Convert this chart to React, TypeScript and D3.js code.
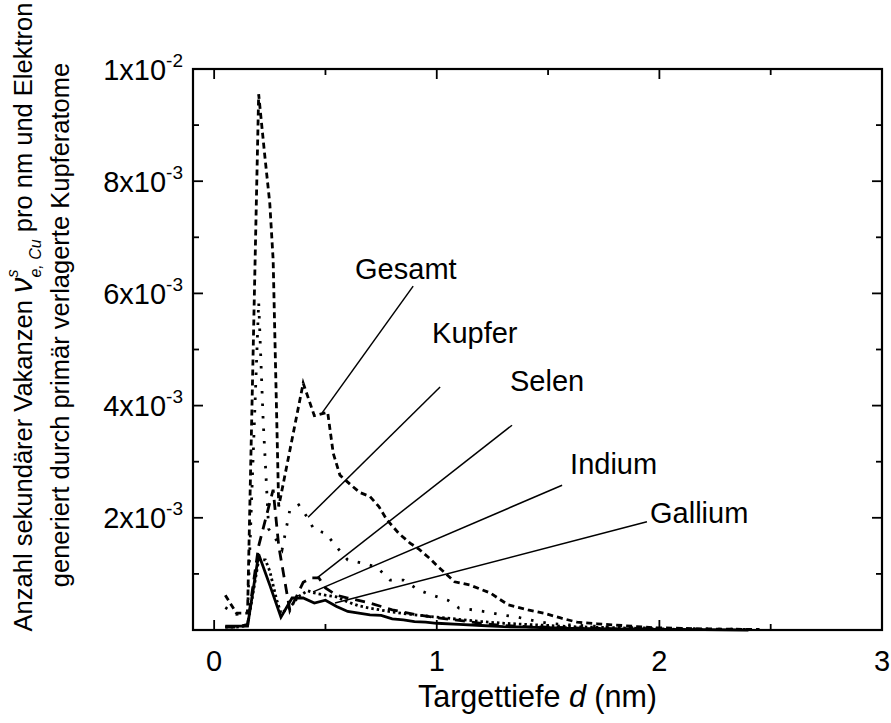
import React from 'react';
import * as d3 from 'd3';

// ---------- data (values in units of 1e-3) ----------
const UNIT = 1e-3;

const depthGesamt = [0.05, 0.1, 0.15, 0.2, 0.225, 0.25, 0.265, 0.29, 0.4, 0.45, 0.51, 0.535, 0.565, 0.61, 0.655, 0.7, 0.74, 0.775, 0.83, 0.88, 0.92, 0.97, 1.0, 1.08, 1.15, 1.24, 1.32, 1.41, 1.48, 1.56, 1.63, 1.72, 1.8, 1.9, 1.98, 2.1, 2.2, 2.3, 2.45];
const valueGesamt = [0.62, 0.3, 0.3, 9.55, 8.55, 7.6, 6.6, 2.2, 4.4, 3.82, 3.88, 3.15, 2.76, 2.6, 2.45, 2.38, 2.2, 1.97, 1.72, 1.55, 1.44, 1.27, 1.15, 0.86, 0.8, 0.66, 0.45, 0.36, 0.3, 0.21, 0.14, 0.11, 0.09, 0.06, 0.04, 0.03, 0.02, 0.015, 0.01];

const depthKupfer = [0.05, 0.1, 0.15, 0.2, 0.22, 0.245, 0.28, 0.305, 0.34, 0.38, 0.42, 0.45, 0.5, 0.55, 0.6, 0.67, 0.73, 0.79, 0.85, 0.92, 0.98, 1.05, 1.1, 1.16, 1.23, 1.29, 1.36, 1.42, 1.5, 1.6, 1.7, 1.79, 1.9, 2.0, 2.2, 2.4];
const valueKupfer = [0.4, 0.28, 0.3, 5.85, 3.75, 1.8, 1.6, 1.43, 2.14, 2.23, 2.0, 1.78, 1.73, 1.48, 1.25, 1.19, 1.12, 0.89, 0.89, 0.71, 0.62, 0.53, 0.39, 0.36, 0.32, 0.27, 0.23, 0.18, 0.12, 0.09, 0.07, 0.05, 0.04, 0.03, 0.02, 0.01];

const depthSelen = [0.05, 0.1, 0.15, 0.2, 0.265, 0.29, 0.34, 0.4, 0.44, 0.47, 0.5, 0.55, 0.6, 0.7, 0.8, 0.9, 1.0, 1.1, 1.2, 1.3, 1.4, 1.5, 1.6, 1.7, 1.8, 2.0, 2.2];
const valueSelen = [0.05, 0.05, 0.1, 1.5, 2.5, 1.5, 0.35, 0.85, 0.93, 0.93, 0.75, 0.62, 0.57, 0.48, 0.36, 0.28, 0.22, 0.17, 0.12, 0.08, 0.06, 0.05, 0.04, 0.03, 0.02, 0.01, 0.005];

const depthIndium = [0.05, 0.1, 0.15, 0.2, 0.23, 0.25, 0.28, 0.3, 0.34, 0.38, 0.42, 0.45, 0.5, 0.55, 0.6, 0.65, 0.7, 0.8, 0.9, 1.0, 1.1, 1.2, 1.3, 1.4, 1.5, 1.6, 1.7, 1.8, 1.9, 2.0, 2.1];
const valueIndium = [0.05, 0.05, 0.08, 1.25, 1.25, 1.05, 0.55, 0.3, 0.4, 0.6, 0.7, 0.66, 0.62, 0.59, 0.5, 0.43, 0.39, 0.32, 0.27, 0.23, 0.19, 0.15, 0.12, 0.1, 0.08, 0.06, 0.05, 0.04, 0.03, 0.02, 0.01];

const depthGallium = [0.05, 0.1, 0.15, 0.2, 0.25, 0.3, 0.35, 0.4, 0.45, 0.5, 0.55, 0.6, 0.65, 0.7, 0.75, 0.8, 0.85, 0.9, 0.95, 1.0, 1.1, 1.2, 1.3, 1.4, 1.5, 1.6, 1.8, 2.0, 2.2, 2.4];
const valueGallium = [0.07, 0.07, 0.07, 1.35, 0.8, 0.23, 0.57, 0.57, 0.48, 0.53, 0.42, 0.33, 0.3, 0.27, 0.26, 0.2, 0.18, 0.15, 0.14, 0.12, 0.1, 0.08, 0.06, 0.05, 0.04, 0.03, 0.02, 0.01, 0.005, 0.0];

const xMajorTicks = [0, 1, 2, 3];
const xMinorTicks = [0.5, 1.5, 2.5];
const yMajorTicks = [0.002, 0.004, 0.006, 0.008, 0.01];
const yMinorTicks = [0.001, 0.003, 0.005, 0.007, 0.009];
const yTickMantissa = ['2', '4', '6', '8', '1'];
const yTickExponent = ['-3', '-3', '-3', '-3', '-2'];

const seriesNames = ['Gesamt', 'Kupfer', 'Selen', 'Indium', 'Gallium'];

// annotation anchors in data units (x in nm, y in 1e-3)
const labelX = [0.633, 0.979, 1.329, 1.599, 1.958];
const labelY = [6.26, 5.12, 4.26, 2.78, 1.91];
const leaderFromX = [0.894, 1.015, 1.338, 1.563, 1.944];
const leaderFromY = [6.13, 4.33, 3.65, 2.58, 1.93];
const leaderToX = [0.485, 0.422, 0.4625, 0.4445, 0.543];
const leaderToY = [3.87, 2.01, 0.93, 0.68, 0.48];

// ---------- layout ----------
const W = 891;
const H = 723;
const PL = 193, PR = 882, PT = 69, PB = 630;
const FONT = '"Liberation Sans", Arial, Helvetica, sans-serif';

const styles: Record<string, { dash: string; width: number; cap: string }> = {
  Gesamt: { dash: '6,4', width: 2.8, cap: 'butt' },
  Kupfer: { dash: '2.5,10', width: 2.8, cap: 'butt' },
  Selen: { dash: '10,7', width: 2.8, cap: 'butt' },
  Indium: { dash: '2.5,3', width: 2.8, cap: 'butt' },
  Gallium: { dash: '', width: 2.8, cap: 'butt' },
};

export default function App() {
  const x = d3.scaleLinear().domain([-0.095, 3]).range([PL, PR]);
  const y = d3.scaleLinear().domain([0, 0.01]).range([PB, PT]);
  const line = d3
    .line<[number, number]>()
    .x((d) => x(d[0]))
    .y((d) => y(d[1] * UNIT));

  const series = [
    { name: 'Gesamt', xs: depthGesamt, vs: valueGesamt },
    { name: 'Kupfer', xs: depthKupfer, vs: valueKupfer },
    { name: 'Selen', xs: depthSelen, vs: valueSelen },
    { name: 'Indium', xs: depthIndium, vs: valueIndium },
    { name: 'Gallium', xs: depthGallium, vs: valueGallium },
  ];

  const majorLen = 10;
  const minorLen = 6;

  return (
    <svg
      width={W}
      height={H}
      style={{ position: 'absolute', left: 0, top: 0, background: '#fff' }}
      fontFamily={FONT}
    >
      <rect x={0} y={0} width={W} height={H} fill="#fff" />
      {/* series */}
      {series.map((s) => (
        <path
          key={s.name}
          d={line(s.xs.map((xv, i) => [xv, s.vs[i]] as [number, number])) || ''}
          fill="none"
          stroke="#000"
          strokeWidth={styles[s.name].width}
          strokeDasharray={styles[s.name].dash || undefined}
          strokeLinecap={styles[s.name].cap as any}
          strokeLinejoin="miter"
        />
      ))}

      {/* frame */}
      <rect x={PL} y={PT} width={PR - PL} height={PB - PT} fill="none" stroke="#000" strokeWidth={2.2} />

      {/* x ticks (bottom & top, inward) */}
      {xMajorTicks.map((t) => (
        <g key={'xM' + t}>
          <line x1={x(t)} x2={x(t)} y1={PB} y2={PB - majorLen} stroke="#000" strokeWidth={1.8} />
          <line x1={x(t)} x2={x(t)} y1={PT} y2={PT + majorLen} stroke="#000" strokeWidth={1.8} />
          <text x={x(t)} y={PB + 41} textAnchor="middle" fontSize={29}>
            {String(t)}
          </text>
        </g>
      ))}
      {xMinorTicks.map((t) => (
        <g key={'xm' + t}>
          <line x1={x(t)} x2={x(t)} y1={PB} y2={PB - minorLen} stroke="#000" strokeWidth={1.8} />
          <line x1={x(t)} x2={x(t)} y1={PT} y2={PT + minorLen} stroke="#000" strokeWidth={1.8} />
        </g>
      ))}

      {/* y ticks (left & right, inward) */}
      {yMajorTicks.map((t, i) => (
        <g key={'yM' + t}>
          <line x1={PL} x2={PL + majorLen} y1={y(t)} y2={y(t)} stroke="#000" strokeWidth={1.8} />
          <line x1={PR} x2={PR - majorLen} y1={y(t)} y2={y(t)} stroke="#000" strokeWidth={1.8} />
          <text x={183} y={y(t) + 10.5} textAnchor="end" fontSize={29}>
            {yTickMantissa[i] + 'x10'}
            <tspan fontSize={19} dy={-13}>
              {yTickExponent[i]}
            </tspan>
          </text>
        </g>
      ))}
      {yMinorTicks.map((t) => (
        <g key={'ym' + t}>
          <line x1={PL} x2={PL + minorLen} y1={y(t)} y2={y(t)} stroke="#000" strokeWidth={1.8} />
          <line x1={PR} x2={PR - minorLen} y1={y(t)} y2={y(t)} stroke="#000" strokeWidth={1.8} />
        </g>
      ))}

      {/* annotations */}
      {seriesNames.map((n, i) => (
        <g key={'a' + n}>
          <line
            x1={x(leaderFromX[i])}
            y1={y(leaderFromY[i] * UNIT)}
            x2={x(leaderToX[i])}
            y2={y(leaderToY[i] * UNIT)}
            stroke="#000"
            strokeWidth={1.5}
          />
          <text x={x(labelX[i])} y={y(labelY[i] * UNIT)} fontSize={29}>
            {n}
          </text>
        </g>
      ))}

      {/* x axis title */}
      <text x={(PL + PR) / 2} y={707} textAnchor="middle" fontSize={30.5}>
        {'Targettiefe '}
        <tspan fontStyle="italic">d</tspan>
        {' (nm)'}
      </text>

      {/* y axis title (two lines) */}
      <text transform={`translate(32,317) rotate(-90)`} textAnchor="middle" fontSize={25.5}>
        {'Anzahl sekundärer Vakanzen '}
        <tspan fontStyle="italic" fontSize={31}>ν</tspan>
        <tspan fontStyle="italic" fontSize={16} dy={-14}>s</tspan>
        <tspan fontStyle="italic" fontSize={16} dx={-8} dy={23}>e, Cu</tspan>
        <tspan dy={-9}>{' pro nm und Elektron'}</tspan>
      </text>
      <text transform={`translate(69,325) rotate(-90)`} textAnchor="middle" fontSize={25.5}>
        generiert durch primär verlagerte Kupferatome
      </text>
    </svg>
  );
}
